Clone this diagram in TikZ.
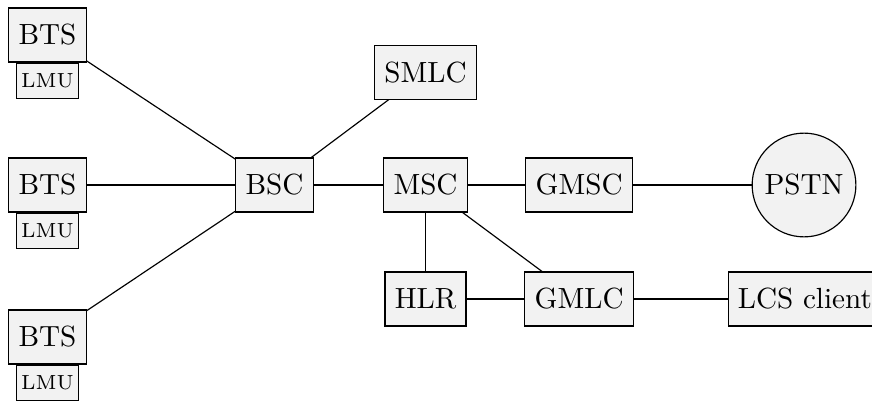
\documentclass[tikz,border=0pt]{standalone}
\usepackage{tikz}
\usetikzlibrary{shapes.geometric, positioning}
\tikzset{
  netbox/.style={rectangle, draw, fill=gray!10, minimum height=0.65cm},
  lmubox/.style={rectangle, draw, fill=gray!10, font=\scriptsize, inner sep=1pt,
                 minimum width=0.75cm, minimum height=0.43cm},
  netcloud/.style={circle, draw, fill=gray!10, minimum size=1.25cm, inner sep=0pt},
  link/.style={-},
}

\begin{document}
\begin{tikzpicture}[node distance=1.82cm, on grid]
  \useasboundingbox (0,0) rectangle (10.506,-4.855);

  \node[netbox] (bsc) at (3.307,-2.229) {BSC};
  \node[netbox, left=2.735cm of bsc]  (bts2) {BTS};
  \node[netbox, above=1.807cm of bts2] (bts1) {BTS};
  \node[netbox, below=1.831cm of bts2] (bts3) {BTS};
  \node[lmubox, anchor=north] (lmu1) at (bts1.south) {LMU};
  \node[lmubox, anchor=north] (lmu2) at (bts2.south) {LMU};
  \node[lmubox, anchor=north] (lmu3) at (bts3.south) {LMU};

  \node[netbox, right=of bsc]            (msc)  {MSC};
  \node[netbox, above=1.36cm of msc]     (smlc) {SMLC};
  \node[netbox, right=1.85cm of msc]     (gmsc) {GMSC};
  \node[netcloud, right=2.71cm of gmsc]  (pstn) {PSTN};
  \node[netbox, below=1.373cm of msc]    (hlr)  {HLR};
  \node[netbox, right=1.85cm of hlr]     (gmlc) {GMLC};
  \node[netbox, right=2.72cm of gmlc]    (lcs)  {LCS client};

  \foreach \a/\b in {bts1/bsc, bts2/bsc, bts3/bsc, bsc/smlc, bsc/msc,
                     msc/gmsc, gmsc/pstn, msc/hlr, msc/gmlc, hlr/gmlc, gmlc/lcs}
    \draw[link] (\a) -- (\b);
\end{tikzpicture}
\end{document}
